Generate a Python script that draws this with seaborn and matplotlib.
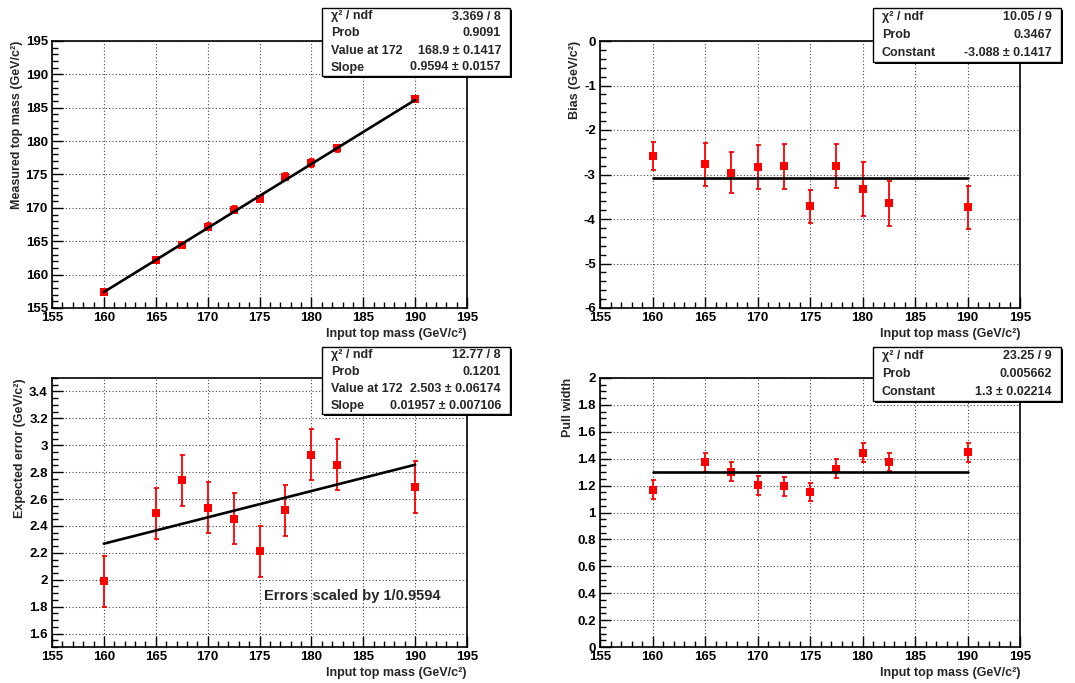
import numpy as np
import pandas as pd
import matplotlib
matplotlib.use("Agg")
import matplotlib.pyplot as plt
import matplotlib.patches as mpatches
from matplotlib.ticker import MultipleLocator, FuncFormatter
import seaborn as sns

# --- DATA ---
input_mass = [160, 165, 167.5, 170, 172.5, 175, 177.5, 180, 182.5, 190]

measured_mass = [157.4, 162.2, 164.5, 167.2, 169.7, 171.3, 174.7, 176.7, 178.9, 186.3]
measured_err = [0.31, 0.48, 0.46, 0.50, 0.51, 0.37, 0.50, 0.60, 0.50, 0.48]

bias = [-2.58, -2.77, -2.96, -2.83, -2.82, -3.71, -2.81, -3.33, -3.65, -3.74]
bias_err = [0.31, 0.48, 0.46, 0.50, 0.51, 0.37, 0.50, 0.60, 0.50, 0.48]

expected_error = [1.99, 2.494, 2.74, 2.536, 2.454, 2.213, 2.516, 2.931, 2.856, 2.69]
expected_error_err = [0.19, 0.19, 0.19, 0.19, 0.19, 0.19, 0.19, 0.19, 0.19, 0.19]

pull_width = [1.168, 1.374, 1.304, 1.202, 1.195, 1.153, 1.327, 1.446, 1.376, 1.448]
pull_width_err = [0.07, 0.07, 0.072, 0.071, 0.07, 0.07, 0.072, 0.071, 0.07, 0.072]

# fit results (as printed in the stat boxes)
fit_range = [160, 190]
mass_fit = {"value": 168.9, "slope": 0.9594}
bias_fit = -3.088
err_fit = {"value": 2.503, "slope": 0.01957}
pull_fit = 1.3

stats_mass = [("χ² / ndf", "3.369 / 8"), ("Prob", "0.9091"),
              ("Value at 172", "168.9 ± 0.1417"), ("Slope", "0.9594 ± 0.0157")]
stats_bias = [("χ² / ndf", "10.05 / 9"), ("Prob", "0.3467"),
              ("Constant", "-3.088 ± 0.1417")]
stats_err = [("χ² / ndf", "12.77 / 8"), ("Prob", "0.1201"),
             ("Value at 172", "2.503 ± 0.06174"), ("Slope", "0.01957 ± 0.007106")]
stats_pull = [("χ² / ndf", "23.25 / 9"), ("Prob", "0.005662"),
              ("Constant", "1.3 ± 0.02214")]

X_LABEL = "Input top mass (GeV/c²)"

# --- STYLE ---
sns.set_theme(style="ticks")
plt.rcParams["font.family"] = ["Liberation Sans", "DejaVu Sans"]
plt.rcParams["font.weight"] = "bold"
plt.rcParams["axes.labelweight"] = "bold"
plt.rcParams["axes.unicode_minus"] = False

W, H = 1075, 683
fig = plt.figure(figsize=(W / 100, H / 100), dpi=100)
fig.patch.set_facecolor("white")


def px_axes(left, top, right, bottom):
    return fig.add_axes([left / W, 1 - bottom / H, (right - left) / W, (bottom - top) / H])


def stat_box(left, top, right, bottom, rows):
    # drop shadow then white box
    sh = mpatches.Rectangle((left / W + 2 / W, 1 - bottom / H - 2 / H), (right - left) / W,
                            (bottom - top) / H, transform=fig.transFigure,
                            facecolor="black", edgecolor="none", zorder=10)
    bx = mpatches.Rectangle((left / W, 1 - bottom / H), (right - left) / W, (bottom - top) / H,
                            transform=fig.transFigure, facecolor="white",
                            edgecolor="black", linewidth=1.0, zorder=11)
    fig.add_artist(sh)
    fig.add_artist(bx)
    step = (bottom - top) / len(rows)
    for i, (name, val) in enumerate(rows):
        yc = top + step * (i + 0.5)
        fig.text((left + 9) / W, 1 - yc / H, name, ha="left", va="center",
                 fontsize=9, fontweight="bold", zorder=12)
        fig.text((right - 9) / W, 1 - yc / H, val, ha="right", va="center",
                 fontsize=9, fontweight="bold", zorder=12)


def style_axes(ax, ylim, ymajor, yminor, ylabel):
    ax.set_xlim(155, 195)
    ax.set_ylim(*ylim)
    ax.xaxis.set_major_locator(MultipleLocator(5))
    ax.xaxis.set_minor_locator(MultipleLocator(1))
    ax.yaxis.set_major_locator(MultipleLocator(ymajor))
    ax.yaxis.set_minor_locator(MultipleLocator(yminor))
    ax.yaxis.set_major_formatter(FuncFormatter(lambda v, p: f"{round(v, 6):g}"))
    ax.tick_params(which="both", direction="in", top=False, right=False,
                   labelsize=9.5, colors="black", width=1.0)
    ax.tick_params(which="major", length=8, pad=3)
    ax.tick_params(which="minor", length=4.5)
    for t in ax.get_xticklabels() + ax.get_yticklabels():
        t.set_fontweight("bold")
    ax.grid(True, which="major", color="#444444", linestyle=(0, (1, 2)), linewidth=0.8)
    for s in ax.spines.values():
        s.set_color("black")
        s.set_linewidth(1.2)
    ax.set_facecolor("white")
    ax.set_xlabel(X_LABEL, loc="right", fontsize=9, fontweight="bold", labelpad=3)
    ax.set_ylabel(ylabel, loc="top", fontsize=9, fontweight="bold", labelpad=2)


def draw_points(ax, y, yerr):
    df = pd.DataFrame({"x": input_mass, "y": y, "err": yerr})
    ax.errorbar(df["x"], df["y"], yerr=df["err"], fmt="none", ecolor="#ff0000",
                elinewidth=1.3, capsize=1.8, capthick=1.3, zorder=3)
    sns.scatterplot(data=df, x="x", y="y", marker="s", s=32, color="#ff0000",
                    edgecolor="#ff0000", linewidth=0, ax=ax, zorder=4, legend=False)


def draw_fit(ax, yvals):
    fit_df = pd.DataFrame({"x": fit_range, "y": yvals})
    sns.lineplot(data=fit_df, x="x", y="y", color="black", linewidth=1.9, ax=ax, zorder=5)


# panel 1: measured vs input
ax1 = px_axes(52, 41, 467, 308)
draw_points(ax1, measured_mass, measured_err)
draw_fit(ax1, [mass_fit["value"] + mass_fit["slope"] * (x - 172) for x in fit_range])
style_axes(ax1, (155, 195), 5, 1, "Measured top mass (GeV/c²)")
stat_box(322, 8, 510, 76, stats_mass)

# panel 2: bias
ax2 = px_axes(600, 41, 1020, 308)
draw_points(ax2, bias, bias_err)
draw_fit(ax2, [bias_fit, bias_fit])
style_axes(ax2, (-6, 0), 1, 0.2, "Bias (GeV/c²)")
stat_box(873, 8, 1061, 62, stats_bias)

# panel 3: expected error
ax3 = px_axes(52, 378, 467, 647)
draw_points(ax3, expected_error, expected_error_err)
draw_fit(ax3, [err_fit["value"] + err_fit["slope"] * (x - 172) for x in fit_range])
style_axes(ax3, (1.5, 3.5), 0.2, 0.05, "Expected error (GeV/c²)")
ax3.text(175.4, 1.88, "Errors scaled by 1/0.9594", ha="left", va="center",
         fontsize=10.5, fontweight="bold", zorder=6)
stat_box(322, 347, 510, 414, stats_err)

# panel 4: pull width
ax4 = px_axes(600, 378, 1020, 647)
draw_points(ax4, pull_width, pull_width_err)
draw_fit(ax4, [pull_fit, pull_fit])
style_axes(ax4, (0, 2), 0.2, 0.05, "Pull width")
stat_box(873, 347, 1061, 401, stats_pull)

fig.savefig("out.png", dpi=100, facecolor="white")
